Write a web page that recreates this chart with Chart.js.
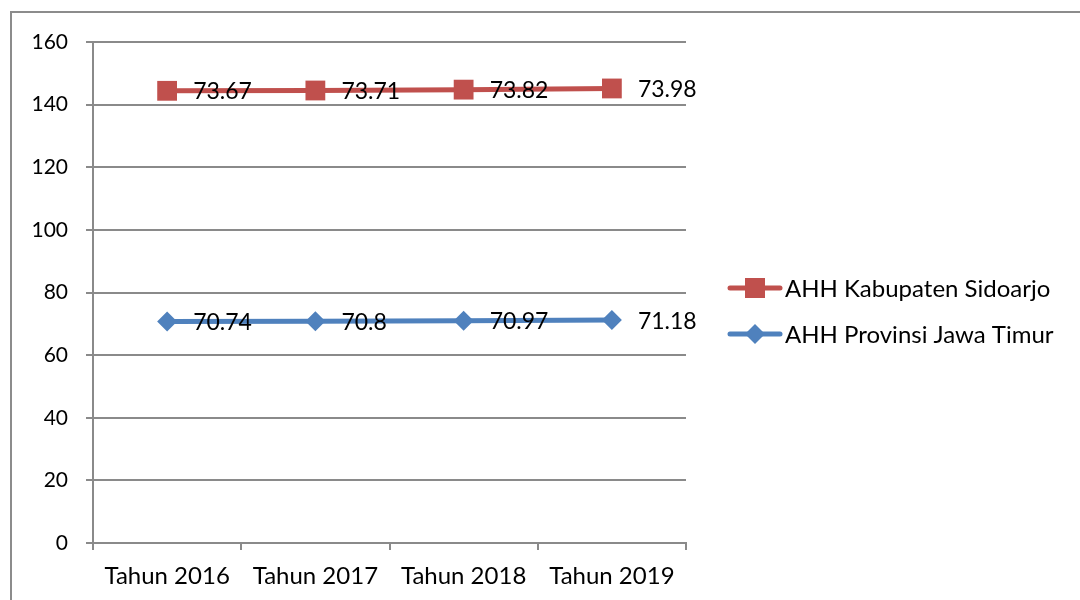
<!DOCTYPE html>
<html lang="id">
  <head>
    <meta charset="UTF-8" />
    <title>AHH Sidoarjo dan Jawa Timur</title>
    <script src="https://cdn.jsdelivr.net/npm/chart.js"></script>
    <style>
      html, body { margin: 0; padding: 0; background: #fff; }
      #wrap { width: 1080px; height: 600px; position: relative; }
    </style>
  </head>
  <body>
    <div id="wrap"><canvas id="ahhChart" width="1080" height="600"></canvas></div>

    <script>
      const years = ["Tahun 2016", "Tahun 2017", "Tahun 2018", "Tahun 2019"];
      const sidoarjo = [73.67, 73.71, 73.82, 73.98];
      const jatim = [70.74, 70.8, 70.97, 71.18];
      const yTicks = [0, 20, 40, 60, 80, 100, 120, 140, 160];

      const FONT = "Lato, 'Open Sans', sans-serif";
      const GRID = "#8a8a8a";

      // frame around the chart (only top and left edge are visible in the original)
      const framePlugin = {
        id: "frame",
        beforeDraw(chart) {
          const ctx = chart.ctx;
          ctx.save();
          ctx.strokeStyle = "#8c8c8c";
          ctx.lineWidth = 2;
          ctx.strokeRect(11, 12, 1100, 620);
          ctx.restore();
        },
      };

      // value labels to the right of every point (actual value, not the stacked one)
      const labelPlugin = {
        id: "valueLabels",
        afterDatasetsDraw(chart) {
          const ctx = chart.ctx;
          ctx.save();
          ctx.font = "23px " + FONT;
          ctx.fillStyle = "#000";
          ctx.textBaseline = "middle";
          chart.data.datasets.forEach((ds, i) => {
            chart.getDatasetMeta(i).data.forEach((pt, j) => {
              ctx.fillText(String(ds.data[j]), pt.x + 26, pt.y + 1);
            });
          });
          ctx.restore();
        },
      };

      // Excel style legend: line with marker in the middle
      const legendPlugin = {
        id: "sideLegend",
        afterDraw(chart) {
          const ctx = chart.ctx;
          const items = [chart.data.datasets[1], chart.data.datasets[0]];
          ctx.save();
          items.forEach((ds, k) => {
            const y = 288 + k * 46;
            ctx.strokeStyle = ds.borderColor;
            ctx.lineWidth = 5;
            ctx.lineCap = "round";
            ctx.beginPath();
            ctx.moveTo(730, y);
            ctx.lineTo(780, y);
            ctx.stroke();
            ctx.fillStyle = ds.pointBackgroundColor;
            ctx.beginPath();
            if (ds.pointStyle === "rect") {
              ctx.rect(745, y - 10, 20, 20);
            } else {
              ctx.moveTo(755, y - 10);
              ctx.lineTo(765, y);
              ctx.lineTo(755, y + 10);
              ctx.lineTo(745, y);
              ctx.closePath();
            }
            ctx.fill();
            ctx.fillStyle = "#000";
            ctx.font = "24px " + FONT;
            ctx.textBaseline = "middle";
            ctx.fillText(ds.label, 785, y + 1);
          });
          ctx.restore();
        },
      };

      const ctx = document.getElementById("ahhChart").getContext("2d");
      new Chart(ctx, {
        type: "line",
        data: {
          labels: years,
          datasets: [
            {
              label: "AHH Provinsi Jawa Timur",
              data: jatim,
              borderColor: "#4F81BD",
              backgroundColor: "#4F81BD",
              pointBackgroundColor: "#4F81BD",
              pointBorderWidth: 0,
              pointStyle: "rectRot",
              pointRadius: 10,
              borderWidth: 5,
              tension: 0,
              fill: false,
              stack: "s",
            },
            {
              label: "AHH Kabupaten Sidoarjo",
              data: sidoarjo,
              borderColor: "#C0504D",
              backgroundColor: "#C0504D",
              pointBackgroundColor: "#C0504D",
              pointBorderWidth: 0,
              pointStyle: "rect",
              pointRadius: 14,
              borderWidth: 5,
              tension: 0,
              fill: false,
              stack: "s",
            },
          ],
        },
        options: {
          responsive: false,
          animation: false,
          layout: { padding: { left: 0, top: 42, right: 394, bottom: 0 } },
          plugins: {
            legend: { display: false },
            tooltip: { enabled: false },
          },
          scales: {
            x: {
              offset: true,
              grid: {
                offset: true,
                drawOnChartArea: false,
                color: GRID,
                tickLength: 7,
                lineWidth: 2,
              },
              border: { color: GRID, width: 2 },
              ticks: {
                color: "#000",
                font: { family: FONT, size: 24 },
                padding: 12,
              },
              afterFit(scale) {
                scale.height = 57;
              },
            },
            y: {
              stacked: true,
              min: 0,
              max: 160,
              afterBuildTicks(scale) {
                scale.ticks = yTicks.map((v) => ({ value: v }));
              },
              grid: { color: GRID, lineWidth: 2, tickLength: 7 },
              border: { color: GRID, width: 2 },
              ticks: {
                color: "#000",
                font: { family: FONT, size: 21 },
                padding: 18,
              },
              afterFit(scale) {
                scale.width = 93;
              },
            },
          },
        },
        plugins: [framePlugin, labelPlugin, legendPlugin],
      });
    </script>
  </body>
</html>
